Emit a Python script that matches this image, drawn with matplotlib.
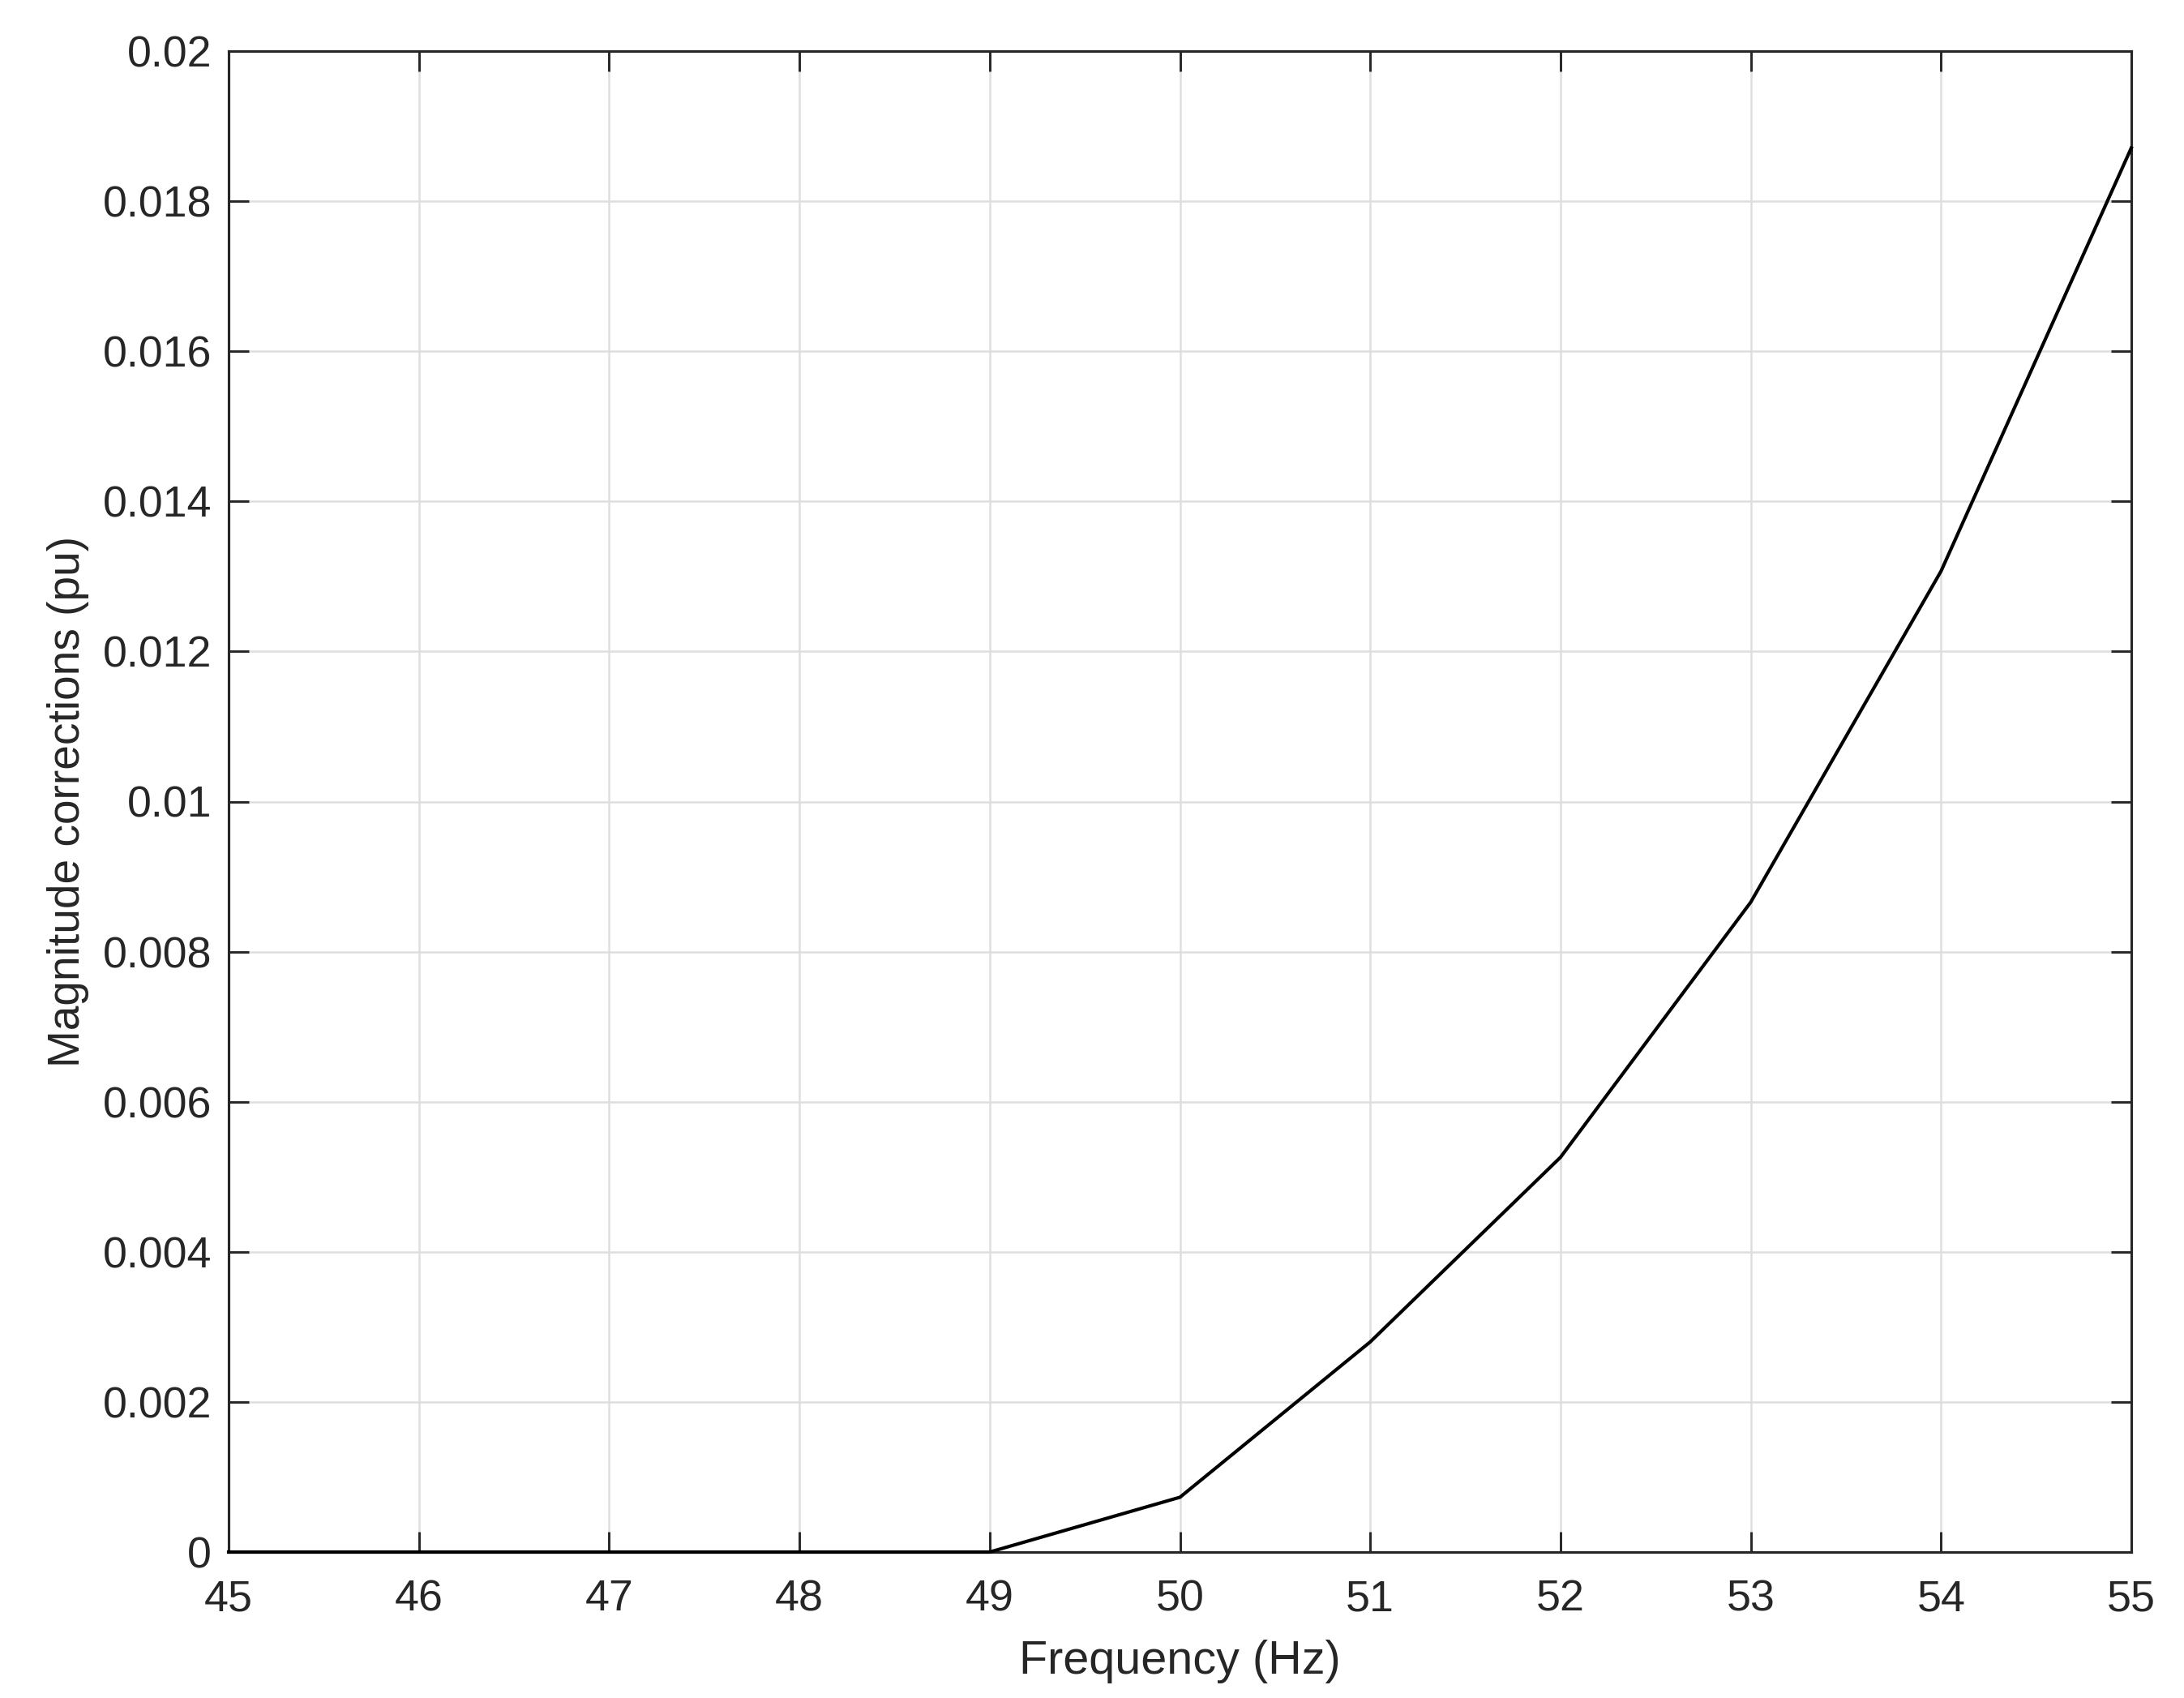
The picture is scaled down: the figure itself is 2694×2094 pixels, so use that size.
import matplotlib
matplotlib.use('Agg')
import matplotlib.pyplot as plt

plt.rcParams['font.family'] = ['Liberation Sans', 'DejaVu Sans']

# frequency sweep and magnitude correction
freq_hz = [45, 46, 47, 48, 49, 50, 51, 52, 53, 54, 55]
mag_corr = [0, 0, 0, 0, 0, 0.00073, 0.0028, 0.00526, 0.00866, 0.01307, 0.01871]

x_ticks = [45, 46, 47, 48, 49, 50, 51, 52, 53, 54, 55]
y_ticks = [0, 0.002, 0.004, 0.006, 0.008, 0.01, 0.012, 0.014, 0.016, 0.018, 0.02]
y_tick_labels = ['0', '0.002', '0.004', '0.006', '0.008', '0.01', '0.012',
                 '0.014', '0.016', '0.018', '0.02']

fig = plt.figure(figsize=(8.98, 6.98), dpi=300)
ax = fig.add_axes([282 / 2694, 1 - 1914 / 2094, 2347 / 2694, 1851 / 2094])

ax.plot(freq_hz, mag_corr, color='black', linewidth=1.0, clip_on=False, zorder=3)

ax.set_xlim(45, 55)
ax.set_ylim(0, 0.02)
ax.set_xticks(x_ticks)
ax.set_yticks(y_ticks)
ax.set_yticklabels(y_tick_labels)

ax.grid(True, color='#dedede', linewidth=0.6)
ax.set_axisbelow(True)
ax.tick_params(direction='in', length=6, width=0.7, top=True, right=True,
               labelsize=12.9, colors='#262626', labelcolor='#262626')
ax.tick_params(axis='x', pad=8)
ax.tick_params(axis='y', pad=5)
for spine in ax.spines.values():
    spine.set_linewidth(0.75)
    spine.set_color('#262626')

ax.set_xlabel('Frequency (Hz)', fontsize=13.8, color='#262626', labelpad=6)
ax.set_ylabel('Magnitude corrections (pu)', fontsize=13.2, color='#262626', labelpad=4)

fig.savefig('out.png', dpi=300, facecolor='white')
